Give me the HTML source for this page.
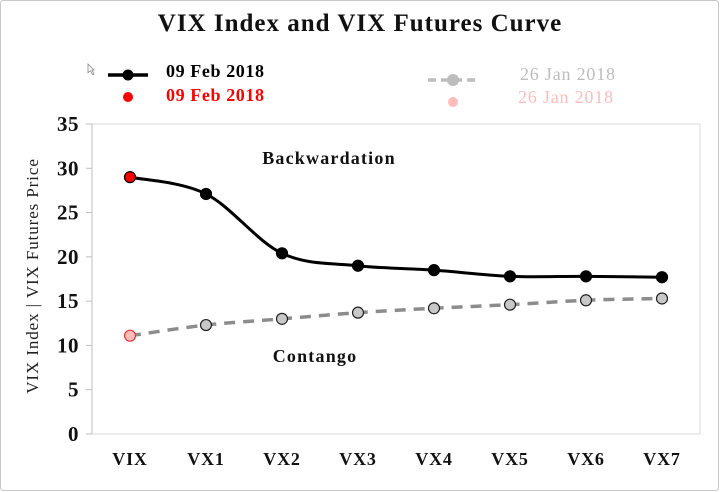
<!DOCTYPE html>
<html><head><meta charset="utf-8"><style>
html,body{margin:0;padding:0;background:#fff;}
svg{display:block;font-family:"Liberation Serif",serif;}
</style></head><body>
<svg id="chart" width="720" height="492" viewBox="0 0 720 492">
<rect x="0.5" y="0.5" width="718" height="490" rx="3" fill="#fff" stroke="#c8c8c8"/>
<text x="360" y="31" text-anchor="middle" font-size="25" font-weight="bold" letter-spacing="1" fill="#111">VIX Index and VIX Futures Curve</text>
<g>
<path d="M88,64 l6,6 l-2,0 l2,4 l-1.5,0.7 l-2,-4 l-2.5,2 z" fill="#fff" stroke="#888" stroke-width="0.8"/>
<g>
<line x1="108" y1="75" x2="148" y2="75" stroke="#000" stroke-width="3.5"/><circle cx="128" cy="75" r="5.5" fill="#000"/>
<text x="166" y="77" font-size="18" font-weight="bold" letter-spacing="0.6" fill="#000">09 Feb 2018</text></g>
<g>
<circle cx="128" cy="97" r="5" fill="#f00"/>
<text x="166" y="101" font-size="18" font-weight="bold" letter-spacing="0.6" fill="#f00">09 Feb 2018</text></g>
<g>
<line x1="428" y1="80" x2="478" y2="80" stroke="#bdbdbd" stroke-width="3.5" stroke-dasharray="8,5"/><circle cx="453" cy="80" r="6" fill="#bdbdbd"/>
<text x="520" y="80" font-size="18" letter-spacing="0.8" fill="#bdbdbd">26 Jan 2018</text></g>
<g>
<circle cx="453" cy="102" r="5" fill="#ffbcbc"/>
<text x="518" y="103" font-size="18" letter-spacing="0.8" fill="#ffbcbc">26 Jan 2018</text></g>
</g>
<rect x="92" y="124" width="608" height="310" fill="none" stroke="#d9d9d9"/>
<line x1="92" y1="124" x2="92" y2="434" stroke="#bfbfbf"/>
<g id="yticks"></g>
<g id="xticks"></g>
<text transform="translate(38,276) rotate(-90)" text-anchor="middle" font-size="17" letter-spacing="0.9" fill="#222">VIX Index  |  VIX Futures Price</text>
<text x="329" y="164" text-anchor="middle" font-size="18" font-weight="bold" letter-spacing="1.2" fill="#111">Backwardation</text>
<text x="315" y="362" text-anchor="middle" font-size="18" font-weight="bold" letter-spacing="1.2" fill="#111">Contango</text>
<g id="series"></g>
</svg>
<script>
const categories = ["VIX","VX1","VX2","VX3","VX4","VX5","VX6","VX7"];
const feb09 = [29.0,27.1,20.4,19.0,18.5,17.8,17.8,17.7];
const jan26 = [11.1,12.3,13.0,13.7,14.2,14.6,15.1,15.3];
const yTicks = [0,5,10,15,20,25,30,35];

const NS="http://www.w3.org/2000/svg";
const L=92,R=700,T=124,B=434,YMAX=35;
const x=i=>L+(R-L)/categories.length*(i+0.5);
const y=v=>B-(B-T)*v/YMAX;
function mk(tag,attrs,parent){const e=document.createElementNS(NS,tag);for(const k in attrs)e.setAttribute(k,attrs[k]);parent.appendChild(e);return e;}
const yg=document.getElementById('yticks'),xg=document.getElementById('xticks'),sg=document.getElementById('series');
yTicks.forEach(t=>{
  const ln=mk('line',{x1:86,x2:92,y1:y(t),y2:y(t),stroke:'#bfbfbf'},yg);
  
  
  const tx=mk('text',{x:79,y:y(t)+7,'text-anchor':'end','font-size':21,'font-weight':'bold','letter-spacing':0.5,fill:'#111'},yg);
  tx.textContent=t;
  
  
});
categories.forEach((c,i)=>{
  const tx=mk('text',{x:x(i),y:465,'text-anchor':'middle','font-size':18,'font-weight':'bold','letter-spacing':0.8,fill:'#111'},xg);
  tx.textContent=c;
  
  
});
function smooth(vals){
  const p=vals.map((v,i)=>[x(i),y(v)]);let d=`M${p[0][0]},${p[0][1]}`;
  for(let i=0;i<p.length-1;i++){
    const p0=p[i-1]||p[i],p1=p[i],p2=p[i+1],p3=p[i+2]||p2,k=1/6;
    d+=` C${p1[0]+(p2[0]-p0[0])*k},${p1[1]+(p2[1]-p0[1])*k} ${p2[0]-(p3[0]-p1[0])*k},${p2[1]-(p3[1]-p1[1])*k} ${p2[0]},${p2[1]}`;
  }return d;}
const jl=mk('path',{d:smooth(jan26),fill:'none',stroke:'#8c8c8c','stroke-width':3.5,'stroke-dasharray':'11,8'},sg);


jan26.forEach((v,i)=>{
  const c=mk('circle',{cx:x(i),cy:y(v),r:5.5,fill:i===0?'#ffbcbc':'#c8c8c8',stroke:i===0?'#f03030':'#222','stroke-width':1.2},sg);
  
  
});
const fl=mk('path',{d:smooth(feb09),fill:'none',stroke:'#000','stroke-width':3},sg);


feb09.forEach((v,i)=>{
  const c=mk('circle',{cx:x(i),cy:y(v),r:5.5,fill:i===0?'#f00':'#000',stroke:'#000','stroke-width':1.2},sg);
  
  
});
</script>
</body></html>
